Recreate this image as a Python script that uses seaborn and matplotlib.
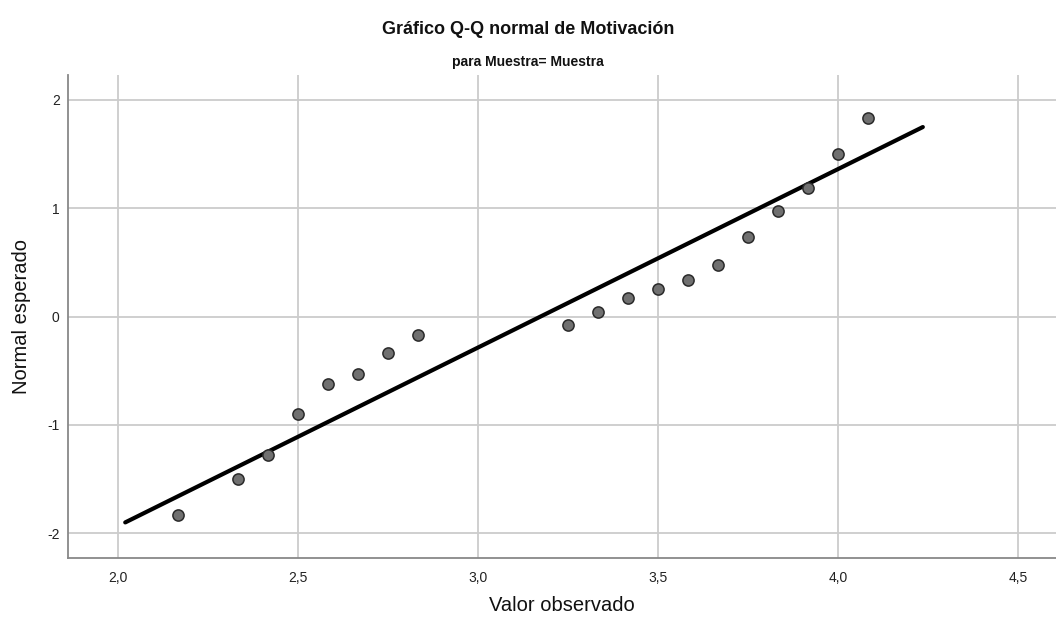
import matplotlib
matplotlib.use("Agg")
import matplotlib.pyplot as plt
import seaborn as sns
import numpy as np
import pandas as pd

observed = [2.167, 2.333, 2.417, 2.500, 2.583, 2.667, 2.750, 2.833,
            3.250, 3.333, 3.417, 3.500, 3.583, 3.667, 3.750, 3.833,
            3.917, 4.000, 4.083]
expected = [-1.83, -1.50, -1.28, -0.90, -0.62, -0.53, -0.34, -0.17,
            -0.08, 0.04, 0.17, 0.25, 0.34, 0.48, 0.73, 0.97,
            1.19, 1.50, 1.83]
mean_obs = 3.174
sd_obs = 0.607
line_x = [2.02, 4.236]
x_ticks = [2.0, 2.5, 3.0, 3.5, 4.0, 4.5]
y_ticks = [-2, -1, 0, 1, 2]

sns.set_theme(style="white")
plt.rcParams['font.family'] = ['Liberation Sans', 'DejaVu Sans']

fig = plt.figure(figsize=(10.56, 6.21), dpi=100)
ax = fig.add_axes([0.0644, 0.1014, 0.9356, 0.7778])

df = pd.DataFrame({"obs": observed, "exp": expected})
line_df = pd.DataFrame({"x": line_x,
                        "y": [(v - mean_obs) / sd_obs for v in line_x]})

for v in x_ticks:
    ax.axvline(v, color="#cccccc", lw=1.3, zorder=0)
for v in y_ticks:
    ax.axhline(v, color="#cccccc", lw=1.3, zorder=0)

sns.lineplot(data=line_df, x="x", y="y", ax=ax, color="black", lw=3, zorder=2)
sns.scatterplot(data=df, x="obs", y="exp", ax=ax, s=65, color="#707070",
                edgecolor="#2a2a2a", linewidth=1.1, zorder=3)

ax.set_xlim(1.861, 4.606)
ax.set_ylim(-2.23, 2.23)
ax.set_xticks(x_ticks)
ax.set_xticklabels([f"{v:.1f}".replace(".", ",") for v in x_ticks])
ax.set_yticks(y_ticks)
ax.set_yticklabels([str(v) for v in y_ticks])
ax.tick_params(axis="x", labelsize=10, length=0, pad=9, colors="#222222")
ax.tick_params(axis="y", labelsize=10, length=0, pad=6, colors="#222222")

for s in ["top", "right"]:
    ax.spines[s].set_visible(False)
for s in ["left", "bottom"]:
    ax.spines[s].set_color("#888888")
    ax.spines[s].set_linewidth(1.3)

ax.set_xlabel("Valor observado", fontsize=14.5, labelpad=8, color="#111111")
ax.set_ylabel("Normal esperado", fontsize=14.5, labelpad=12, color="#111111")

fig.text(0.5, 0.953, "Gráfico Q-Q normal de Motivación", ha="center", va="center",
         fontsize=13, fontweight="bold", color="#111111")
fig.text(0.5, 0.9, "para Muestra= Muestra", ha="center", va="center",
         fontsize=10, fontweight="bold", color="#111111")

fig.savefig("out.png", dpi=100, facecolor="white")
